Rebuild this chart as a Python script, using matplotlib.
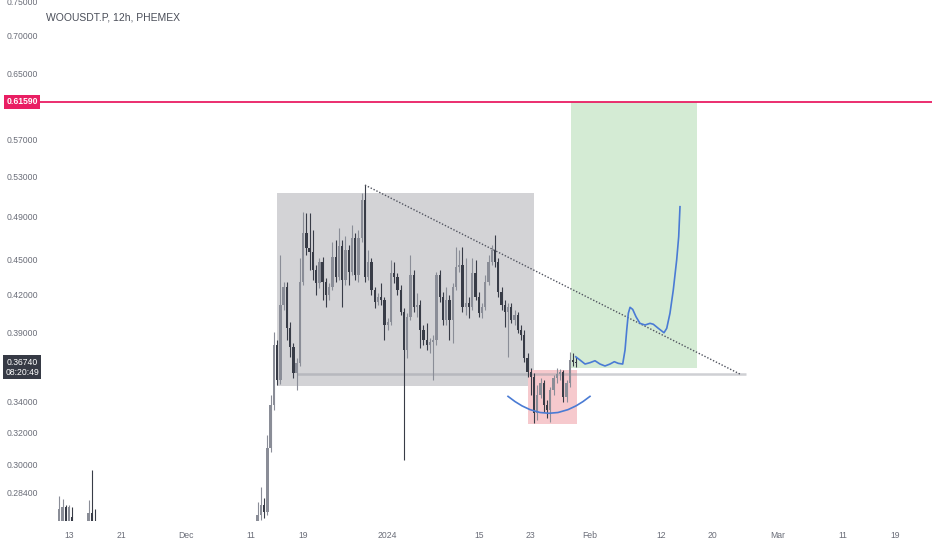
import matplotlib
matplotlib.use("Agg")
import matplotlib.pyplot as plt
import matplotlib.dates as mdates
from matplotlib import font_manager
from matplotlib.patches import Rectangle
import numpy as np
import pandas as pd

# ---- candles (12h, WOOUSDT.P) ----
early1_start = "2023-11-11 12:00"
early1_open = [0.2620, 0.2640, 0.2765, 0.2650, 0.2715]
early1_high = [0.2825, 0.2810, 0.2775, 0.2775, 0.2765]
early1_low = [0.2580, 0.2600, 0.2600, 0.2600, 0.2580]
early1_close = [0.2755, 0.2765, 0.2650, 0.2765, 0.2620]

early2_start = "2023-11-16 00:00"
early2_open = [0.2620, 0.2735, 0.2660]
early2_high = [0.2805, 0.2975, 0.2755]
early2_low = [0.2580, 0.2580, 0.2580]
early2_close = [0.2735, 0.2620, 0.2620]

main_start = "2023-12-12 00:00"
main_open = [
    0.2670, 0.2723, 0.2777, 0.2739, 0.3108, 0.3384, 0.3809, 0.3555, 0.4123, 0.4272,
    0.3939, 0.3794, 0.3605, 0.3676, 0.4314, 0.4753, 0.4614, 0.4578, 0.4418, 0.4306,
    0.4488, 0.4314, 0.4205, 0.4272, 0.4532, 0.4357, 0.4632, 0.4332, 0.4596, 0.4400,
    0.4706, 0.4374, 0.4706, 0.5073, 0.4357, 0.4488, 0.4247, 0.4147, 0.4188, 0.4164,
    0.3963, 0.3987, 0.4392, 0.4357, 0.4247, 0.4066, 0.3772, 0.4026, 0.4374, 0.4106,
    0.4123, 0.3924, 0.3847, 0.3809, 0.3832, 0.3847, 0.4374, 0.4188, 0.4003, 0.4164,
    0.4003, 0.4272, 0.4444, 0.4462, 0.4106, 0.4139, 0.4106, 0.4392, 0.4188, 0.4058,
    0.4106, 0.4314, 0.4488, 0.4596, 0.4488, 0.4230, 0.4123, 0.4066, 0.4106, 0.4003,
    0.4042, 0.3924, 0.3886, 0.3713, 0.3612, 0.3576, 0.3331, 0.3451, 0.3534, 0.3384,
    0.3351, 0.3486, 0.3569, 0.3598, 0.3612, 0.3437, 0.3534, 0.3698, 0.3684]
main_high = [
    0.2794, 0.2878, 0.2816, 0.3189, 0.3451, 0.3909, 0.3847, 0.4551, 0.4314, 0.4314,
    0.3987, 0.3825, 0.3713, 0.4523, 0.4954, 0.4944, 0.4944, 0.4781, 0.4462, 0.4523,
    0.4532, 0.4348, 0.4306, 0.4669, 0.4688, 0.4800, 0.4688, 0.4725, 0.4641, 0.4828,
    0.4753, 0.4781, 0.5144, 0.5225, 0.4596, 0.4523, 0.4272, 0.4222, 0.4306, 0.4188,
    0.4018, 0.4506, 0.4488, 0.4392, 0.4289, 0.4098, 0.4058, 0.4551, 0.4418, 0.4222,
    0.4164, 0.3963, 0.3979, 0.3862, 0.3886, 0.4400, 0.4418, 0.4230, 0.4272, 0.4205,
    0.4306, 0.4623, 0.4596, 0.4623, 0.4523, 0.4188, 0.4523, 0.4506, 0.4230, 0.4139,
    0.4374, 0.4551, 0.4641, 0.4734, 0.4523, 0.4272, 0.4164, 0.4139, 0.4139, 0.4082,
    0.4066, 0.3963, 0.3924, 0.3750, 0.3640, 0.3605, 0.3520, 0.3569, 0.3555, 0.3418,
    0.3506, 0.3590, 0.3640, 0.3633, 0.3626, 0.3555, 0.3757, 0.3750, 0.3720]
main_low = [
    0.2644, 0.2696, 0.2707, 0.2723, 0.3084, 0.3351, 0.3520, 0.3527, 0.4082, 0.3847,
    0.3720, 0.3569, 0.3486, 0.3655, 0.4289, 0.4551, 0.4418, 0.4332, 0.4205, 0.4263,
    0.4164, 0.4106, 0.4164, 0.4247, 0.4314, 0.4332, 0.4106, 0.4289, 0.4289, 0.4374,
    0.4332, 0.4314, 0.4669, 0.4314, 0.4332, 0.4205, 0.4098, 0.4123, 0.4123, 0.3847,
    0.3924, 0.3963, 0.4306, 0.4205, 0.4042, 0.3036, 0.3713, 0.4003, 0.4066, 0.4026,
    0.3787, 0.3809, 0.3772, 0.3750, 0.3555, 0.3809, 0.4147, 0.3963, 0.3963, 0.3847,
    0.3825, 0.4247, 0.4400, 0.4066, 0.4042, 0.4018, 0.4082, 0.4164, 0.4026, 0.4018,
    0.4082, 0.4289, 0.4462, 0.4444, 0.4188, 0.4082, 0.3947, 0.3720, 0.3979, 0.3963,
    0.3901, 0.3847, 0.3684, 0.3576, 0.3451, 0.3266, 0.3285, 0.3431, 0.3337, 0.3298,
    0.3272, 0.3451, 0.3534, 0.3555, 0.3404, 0.3404, 0.3506, 0.3655, 0.3647]
main_close = [
    0.2723, 0.2777, 0.2739, 0.3108, 0.3384, 0.3809, 0.3555, 0.4123, 0.4272, 0.3939,
    0.3794, 0.3605, 0.3676, 0.4314, 0.4753, 0.4614, 0.4578, 0.4418, 0.4306, 0.4488,
    0.4314, 0.4205, 0.4272, 0.4532, 0.4357, 0.4632, 0.4332, 0.4596, 0.4400, 0.4706,
    0.4374, 0.4706, 0.5073, 0.4357, 0.4488, 0.4247, 0.4147, 0.4188, 0.4164, 0.3963,
    0.3987, 0.4392, 0.4357, 0.4247, 0.4066, 0.3772, 0.4026, 0.4374, 0.4106, 0.4123,
    0.3924, 0.3847, 0.3809, 0.3832, 0.3847, 0.4374, 0.4188, 0.4003, 0.4164, 0.4003,
    0.4272, 0.4444, 0.4462, 0.4106, 0.4139, 0.4106, 0.4392, 0.4188, 0.4058, 0.4106,
    0.4314, 0.4488, 0.4596, 0.4488, 0.4230, 0.4123, 0.4066, 0.4106, 0.4003, 0.4042,
    0.3924, 0.3886, 0.3713, 0.3612, 0.3576, 0.3331, 0.3451, 0.3534, 0.3384, 0.3351,
    0.3486, 0.3569, 0.3598, 0.3612, 0.3437, 0.3534, 0.3698, 0.3684, 0.3674]

# ---- drawings ----
range_box = ["2023-12-15 00:00", "2024-01-23 12:00", 0.3513, 0.5140]
base_box = ["2024-01-22 15:00", "2024-01-30 01:30", 0.3259, 0.3626]
target_box = ["2024-01-29 04:00", "2024-02-17 12:00", 0.3643, 0.6159]
trend_dates = ["2023-12-28 12:00", "2024-02-24 06:00"]
trend_prices = [0.5225, 0.3595]
support_dates = ["2023-12-18 00:00", "2024-02-25 01:00"]
support_prices = [0.3596, 0.3596]
target_price = 0.6159
last_price = 0.3674
countdown = "08:20:49"

arc_days = [67.50, 68.57, 69.65, 70.88, 72.42, 73.80, 75.18, 76.72, 77.95, 79.03, 80.10]
arc_prices = [0.3442, 0.3407, 0.3378, 0.3353, 0.3334, 0.3329, 0.3334, 0.3353, 0.3378, 0.3407, 0.3442]

path_days = [77.91, 78.57, 79.34, 80.11, 80.87, 81.64, 82.41, 83.18, 83.84, 84.45,
             85.13, 85.49, 85.75, 86.00, 86.26, 86.67, 87.18, 87.79, 88.56, 89.33,
             89.84, 90.61, 91.48, 91.90, 92.40, 92.91, 93.43, 93.74, 93.94]
path_prices = [0.3722, 0.3698, 0.3669, 0.3679, 0.3693, 0.3669, 0.3655, 0.3669, 0.3686, 0.3674,
               0.3669, 0.3772, 0.3924, 0.4056, 0.4104, 0.4087, 0.4028, 0.3976, 0.3963, 0.3976,
               0.3969, 0.3937, 0.3903, 0.3937, 0.4056, 0.4247, 0.4506, 0.4718, 0.5006]
day_zero = "2023-11-13"

# ---- axes labels ----
price_ticks = [0.75, 0.70, 0.65, 0.57, 0.53, 0.49, 0.45, 0.42, 0.39, 0.34, 0.32, 0.30, 0.284]
date_ticks = ["2023-11-13", "2023-11-21", "2023-12-01", "2023-12-11", "2023-12-19", "2024-01-01",
              "2024-01-15", "2024-01-23", "2024-02-01", "2024-02-12", "2024-02-20", "2024-03-01",
              "2024-03-11", "2024-03-19"]
date_labels = ["13", "21", "Dec", "11", "19", "2024", "15", "23", "Feb", "12", "20", "Mar", "11", "19"]
title = "WOOUSDT.P, 12h, PHEMEX"

names = {f.name for f in font_manager.fontManager.ttflist}
if "Liberation Sans Narrow" in names:
    FONT, fs = "Liberation Sans Narrow", 7.0
else:
    FONT, fs = "Liberation Sans", 6.2
plt.rcParams["font.family"] = [FONT, "DejaVu Sans"]

UP, DOWN = "#8a8d97", "#383c47"
W, H = 932, 550

fig = plt.figure(figsize=(W / 100, H / 100), dpi=100)
ax = fig.add_axes([0, 29 / H, 1, 521 / H])
ax.set_yscale("log")
ax.set_xlim(mdates.date2num(pd.Timestamp("2023-11-02 09:20")),
            mdates.date2num(pd.Timestamp("2024-03-24 16:30")))
ax.set_ylim(0.2691, 0.7530)
for s in ax.spines.values():
    s.set_visible(False)
ax.set_yticks([])
ax.yaxis.set_minor_locator(matplotlib.ticker.NullLocator())


def draw_candles(start, o, h, l, c):
    x = mdates.date2num(pd.date_range(start, periods=len(o), freq="12h"))
    o, h, l, c = map(np.asarray, (o, h, l, c))
    col = np.where(c >= o, UP, DOWN)
    ax.vlines(x, l, h, colors=col, linewidth=0.8, zorder=3)
    lo = np.minimum(o, c)
    hi = np.maximum(o, c)
    ax.bar(x, hi - lo, bottom=lo, width=0.36, color=col, linewidth=0, zorder=3)


def box(spec, color):
    x0 = mdates.date2num(pd.Timestamp(spec[0]))
    x1 = mdates.date2num(pd.Timestamp(spec[1]))
    ax.add_patch(Rectangle((x0, spec[2]), x1 - x0, spec[3] - spec[2],
                           facecolor=color, edgecolor="none", zorder=1))


box(range_box, "#d3d3d6")
box(base_box, "#f6c9cd")
box(target_box, "#d4ebd4")

ax.plot(mdates.date2num(pd.to_datetime(support_dates)), support_prices,
        color="#9598a1", alpha=0.45, linewidth=1.8, solid_capstyle="butt", zorder=2)

draw_candles(early1_start, early1_open, early1_high, early1_low, early1_close)
draw_candles(early2_start, early2_open, early2_high, early2_low, early2_close)
draw_candles(main_start, main_open, main_high, main_low, main_close)

ax.plot(mdates.date2num(pd.to_datetime(trend_dates)), trend_prices,
        color="#50535e", linewidth=1.0, linestyle=(0, (1, 1.3)), zorder=4)

d0 = mdates.date2num(pd.Timestamp(day_zero))
ax.plot(d0 + np.array(arc_days), arc_prices, color="#4a7bd4", linewidth=1.2, zorder=4)
ax.plot(d0 + np.array(path_days), path_prices, color="#4a7bd4", linewidth=1.2, zorder=4)

# target line
ax.axhline(target_price, xmin=39 / W, xmax=1, color="#e91e63", linewidth=1.3, zorder=2)

# price labels
ytr = ax.get_yaxis_transform()
for p in price_ticks:
    ax.text(7 / W, p, f"{p:.5f}", transform=ytr, ha="left", va="center",
            fontsize=fs, color="#6a6d78", zorder=6)

ax.text(22 / W, target_price, f"{target_price:.5f}", transform=ytr, ha="center", va="center",
        fontsize=fs, color="white", fontweight="bold", zorder=7,
        bbox=dict(boxstyle="square,pad=0.3", facecolor="#e91e63", edgecolor="none"))
ax.annotate(f"{last_price:.5f}\n{countdown}", xy=(22 / W, last_price), xycoords=ytr,
            xytext=(0, 4.2), textcoords="offset points", ha="center", va="top",
            fontsize=fs, color="white", linespacing=1.25, zorder=7,
            bbox=dict(boxstyle="square,pad=0.25", facecolor="#363a45", edgecolor="none"))

# date labels
ax.set_xticks(mdates.date2num(pd.to_datetime(date_ticks)))
ax.set_xticklabels(date_labels, fontsize=fs, color="#6a6d78")
ax.tick_params(axis="x", length=0, pad=7)

fig.text(46 / W, 1 - 17 / H, title, ha="left", va="center", fontsize=fs * 1.2, color="#4a4e59")

fig.savefig("out.png", dpi=100)
